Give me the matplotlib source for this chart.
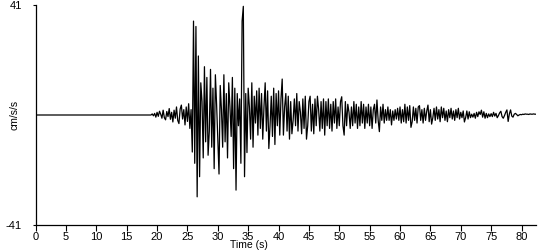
import numpy as np
import matplotlib
matplotlib.use('Agg')
import matplotlib.pyplot as plt

plt.rcParams['font.family'] = ['Liberation Sans', 'DejaVu Sans']

# record is quiet (0) until quiet_end, then sampled every 0.2 s
quiet_end = 19.0
dt = 0.2
accel = [
    0, 0.4, -0.3, 0.6, -0.8,          # 19 s
    1.0, -0.5, 1.4, 0.3, -1.2,        # 20
    1.8, -1.0, -1.8, 1.3, -0.6,       # 21
    2.4, -1.6, 1.0, -2.6, 1.8,        # 22
    -1.2, 3.0, -2.0, -3.2, 2.2,       # 23
    3.7, -1.5, 2.0, -3.7, 3.0,        # 24
    -2.4, 4.2, -5.0, 2.0, -13.8,      # 25
    35, -18, 33, -30.5, 22,           # 26
    -23, 12, 5, -16, 18,              # 27
    -10, 14, -15, -6, 17,             # 28
    -12, 10, -20, 15, 4,              # 29
    -9, -22, 11, 2, -12,              # 30
    15, -10, 8, -16, 12,              # 31
    3, -8, 14, -20, 10,               # 32
    -28, 8, -4, 6, -18,               # 33
    35, 40.5, -23, 8, -14,            # 34
    10, 3, -9, 12, -12,               # 35
    7, -3, 9, -7.5, 10,               # 36
    -5, 8, -9, 3, 12,                 # 37
    -6, 9, -12.5, -4, 7,              # 38
    -8, 10, -11, 8, -4,               # 39
    9, -7.5, 6, 13.4, -7.5,           # 40
    3, 8, -6, 7, -9,                  # 41
    5, -7, -2, 6, -4,                 # 42
    8, -6, 5, 1, -7,                  # 43
    6, -5, 7, -9, -4,                 # 44
    5, 7, -6, 4, -7,                  # 45
    6, -4, 7, 2, -6,                  # 46
    5, -5, 6, -7.5, 5,                # 47
    -4, 6, -5, 4, -6,                 # 48
    5, -3, 6, -5, 3,                  # 49
    -4, 5, 6.8, -4, -7.5,             # 50
    5, -4, 4, 1, -5,                  # 51
    3, -4, 5, -3, 4,                  # 52
    -5, 3, -4, 5, -3,                 # 53
    4, -5, 3, -3, 4,                  # 54
    -4, 3, -5, 2, 4,                  # 55
    -3, 5.6, -2, -6.2, 3,             # 56
    -2, 4, -3, 2, -2,                 # 57
    3, -2, 2, -3.7, 1.5,              # 58
    -2, 2, -1.5, 2.5, -2,             # 59
    3, -3, 2, -2.5, 4,                # 60
    -3, 3, -2, 3.5, -4.6,             # 61
    -2.5, 3, -2, 2.5, -3,             # 62
    3, 3.5, -2, 2, -3,                # 63
    2.5, -2, 1.5, 3.7, -2.5,          # 64
    2, -3.4, -1, 2.5, -2,             # 65
    3, -1.5, 2, -2.5, 3,              # 66
    -1, 2.5, -2, 1.5, -2.5,           # 67
    2, -1, 2.5, -1.5, 1.5,            # 68
    -2, 2, -1, 2.5, -1.5,             # 69
    1, -1, 1.5, -2.6, -1,             # 70
    1.5, -1.5, 1.2, -1, 0.3,          # 71
    -0.8, 0.6, -1.2, 1.0, -0.6,       # 72
    1.2, 0.2, 1.8, -0.8, 1.2,         # 73
    -1.2, 0.6, -1.0, 0.4, -0.6,       # 74
    0.5, -0.6, 1.0, -0.4, 0.6,        # 75
    -1.0, -0.2, 0.8, 1.4, -0.6,       # 76
    -1.2, -0.2, 1.0, 1.9, -2.4,       # 77
    0.4, 1.9, -0.4, -0.8, 0.3,        # 78
    0.6, 0.2, -0.3, 0, 0.2,           # 79
    0.1, 0.3, 0.2, 0.4, 0.3,          # 80
    0.3, 0.2, 0.4, 0.3, 0.3,          # 81
    0.4, 0.3, 0.3,                    # 82
]
peak = 41
x_ticks = list(range(0, 81, 5))

t = np.concatenate([[0.0], quiet_end + dt * np.arange(len(accel))])
a = np.concatenate([[0.0], accel])

fig = plt.figure(figsize=(5.5, 2.5), dpi=100)
ax = fig.add_axes([0.0647, 0.1, 0.91, 0.88])
ax.plot(t, a, color='black', linewidth=0.9)

ax.set_xlim(0, t[-1])
ax.set_ylim(-peak, peak)
ax.set_xticks(x_ticks)
ax.set_yticks([-peak, peak])
ax.set_yticklabels([str(-peak), str(peak)])
ax.tick_params(axis='x', direction='out', length=4, width=0.8, labelsize=8, pad=1)
ax.tick_params(axis='y', length=2, width=0.8, labelsize=8, pad=8)

for side in ['top', 'right']:
    ax.spines[side].set_visible(False)
for side in ['left', 'bottom']:
    ax.spines[side].set_linewidth(0.9)

ax.set_xlabel('Time (s)', fontsize=7.5)
ax.xaxis.set_label_coords(0.4265, -0.07)
ax.set_ylabel('cm/s/s', fontsize=7.5)
ax.yaxis.set_label_coords(-0.033, 0.5)

fig.savefig('out.png', dpi=100)
